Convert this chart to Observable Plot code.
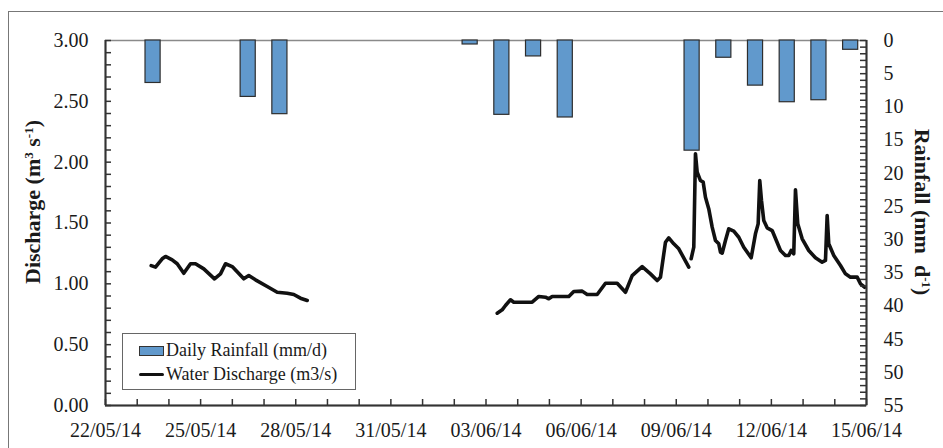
<!DOCTYPE html>
<html>
<head>
<meta charset="utf-8">
<script src="https://cdn.jsdelivr.net/npm/d3@7"></script>
<script src="https://cdn.jsdelivr.net/npm/@observablehq/plot@0.6"></script>
<style>
  body { margin: 0; background: #fff; }
  #wrap { position: relative; width: 943px; height: 448px; overflow: hidden;
          font-family: "Liberation Serif", "Times New Roman", serif; color: #1a1a1a; background: #fff; }
  #outer { position: absolute; left: 8px; top: 11px; width: 1000px; height: 1000px;
           border-left: 1.5px solid #777; border-top: 1.5px solid #777; pointer-events: none; }
  .ytitle { position: absolute; font-weight: bold; font-size: 22px; white-space: nowrap;
            transform-origin: center center; line-height: 1; }
  .ytitle sup { font-size: 13px; vertical-align: 7px; line-height: 0; }
  #legend { position: absolute; left: 122px; top: 333px; width: 232px; height: 55px;
            border: 1px solid #666; background: #fff; font-size: 18px; }
  .lrow { position: absolute; left: 16px; display: flex; align-items: center; white-space: nowrap; }
  .sw-bar { width: 23px; height: 8px; background: #6199cc; border: 1px solid #333; margin-right: 2px; }
  .sw-line { width: 25px; height: 3.5px; background: #111; border-radius: 2px; margin-right: 2px; }
</style>
</head>
<body>
<div id="wrap">
  <div id="chart"></div>
  <div id="outer"></div>
  <div class="ytitle" id="ltitle">Discharge (m<sup>3</sup> s<sup>-1</sup>)</div>
  <div class="ytitle" id="rtitle">Rainfall (mm&nbsp;&nbsp;d<sup>-1</sup>)</div>
  <div id="legend">
    <div class="lrow" style="top:6px"><span class="sw-bar"></span><span>Daily Rainfall (mm/d)</span></div>
    <div class="lrow" style="top:30px"><span class="sw-line"></span><span>Water Discharge (m3/s)</span></div>
  </div>
</div>
<script>
// ---------- data ----------
const startDate = "2014-05-22";
const endDate = "2014-06-15";
const labelDates = ["2014-05-22","2014-05-25","2014-05-28","2014-05-31","2014-06-03",
                    "2014-06-06","2014-06-09","2014-06-12","2014-06-15"];

// daily rainfall (mm/d), right axis (inverted)
const rainDates = ["2014-05-23","2014-05-26","2014-05-27","2014-06-02","2014-06-03","2014-06-04",
                   "2014-06-05","2014-06-09","2014-06-10","2014-06-11","2014-06-12","2014-06-13","2014-06-14"];
const rainMm = [6.4, 8.5, 11.1, 0.6, 11.2, 2.4, 11.6, 16.6, 2.6, 6.8, 9.3, 9.0, 1.4];

// water discharge (m3/s); time as days elapsed since 22/05/14 00:00, three recorded segments
const q1Day = [1.441,1.577,1.788,1.892,2.103,2.261,2.469,2.681,2.838,3.100,3.437,3.627,3.784,3.996,
               4.361,4.519,4.730,5.099,5.415,5.730,5.938,6.149,6.361];
const q1Val = [1.150,1.137,1.206,1.225,1.197,1.165,1.087,1.165,1.165,1.123,1.041,1.082,1.165,1.142,
               1.041,1.068,1.033,0.978,0.931,0.923,0.912,0.882,0.863];
const q2Day = [12.353,12.510,12.614,12.772,12.876,13.456,13.665,13.876,13.980,14.087,14.611,14.768,
               15.033,15.191,15.506,15.768,16.137,16.399,16.610,16.925,17.187,17.398,17.502,17.660,
               17.764,17.922,18.080,18.395];
const q2Val = [0.759,0.786,0.822,0.869,0.849,0.849,0.896,0.890,0.877,0.896,0.896,0.937,
               0.940,0.912,0.912,1.005,1.005,0.931,1.068,1.142,1.082,1.027,1.055,1.342,
               1.378,1.329,1.288,1.137];
const q3Day = [18.470,18.553,18.606,18.660,18.764,18.849,18.921,19.026,19.133,19.237,
               19.341,19.395,19.448,19.552,19.656,19.814,19.972,20.129,20.363,20.498,
               20.583,20.634,20.688,20.760,20.867,21.025,21.287,21.444,21.549,21.624,
               21.706,21.760,21.832,21.971,22.179,22.390,22.601,22.706,22.759,22.810,
               22.968,23.179,23.337,23.494,23.706,23.809,23.945];
const q3Val = [1.206,1.301,2.069,1.918,1.849,1.836,1.712,1.616,1.466,1.356,
               1.329,1.260,1.252,1.356,1.452,1.433,1.383,1.301,1.214,1.411,
               1.493,1.849,1.685,1.521,1.460,1.438,1.274,1.233,1.233,1.274,
               1.247,1.773,1.493,1.370,1.274,1.214,1.178,1.192,1.562,1.329,
               1.233,1.151,1.082,1.055,1.055,1.000,0.972];

const dischargeTicks = [0, 0.5, 1, 1.5, 2, 2.5, 3];
const rainTicks = [0, 5, 10, 15, 20, 25, 30, 35, 40, 45, 50, 55];
const dischargeMax = 3;
const rainMax = 55;

// ---------- build ----------
const parse = d3.utcParse("%Y-%m-%d");
const t0 = parse(startDate), t1 = parse(endDate);
const rainToY = r => dischargeMax - r * dischargeMax / rainMax;

const rain = rainDates.map((d, i) => ({start: parse(d), end: d3.utcDay.offset(parse(d), 1), mm: rainMm[i]}));
const q = [];
[[q1Day, q1Val], [q2Day, q2Val], [q3Day, q3Val]].forEach(([ds, vs], s) =>
  ds.forEach((d, i) => q.push({date: new Date(t0.getTime() + d * 864e5), v: vs[i], seg: s})));

const W = 943, H = 448, mL = 105, mR = 77, mT = 40, mB = 43;
const plotW = W - mL - mR, plotH = H - mT - mB, tickPx = 6;
const ink = "#1a1a1a";

const plot = Plot.plot({
  width: W, height: H,
  marginLeft: mL, marginRight: mR, marginTop: mT, marginBottom: mB,
  style: {fontFamily: '"Liberation Serif", "Times New Roman", serif', fontSize: "20px", color: ink, background: "transparent"},
  x: {type: "utc", domain: [t0, t1], label: null},
  y: {domain: [0, dischargeMax], label: null},
  marks: [
    Plot.frame({stroke: "#8a8a8a", strokeWidth: 1.5}),
    Plot.rect(rain, {x1: "start", x2: "end", y1: dischargeMax, y2: d => rainToY(d.mm),
                     insetLeft: 8.3, insetRight: 8.3, fill: "#6199cc", stroke: "#2e2e2e", strokeWidth: 1.2}),
    Plot.line(q, {x: "date", y: "v", z: "seg", stroke: "#111", strokeWidth: 3.6,
                  strokeLinejoin: "round", strokeLinecap: "round", curve: "linear"}),
    // inward minor ticks (short ticks pinned to the frame edges)
    Plot.tickX(d3.utcDay.range(t0, d3.utcDay.offset(t1, 1)), {x: d => d, insetTop: plotH - tickPx, stroke: "#333", strokeWidth: 1.5}),
    Plot.tickY(d3.range(0, 31).map(i => i / 10), {y: d => d, insetRight: plotW - tickPx, stroke: "#333", strokeWidth: 1.5}),
    Plot.tickY(d3.range(0, rainMax + 1).map(rainToY), {y: d => d, insetLeft: plotW - tickPx, stroke: "#333", strokeWidth: 1.5}),
    // axis lines
    Plot.ruleX([t0], {stroke: "#333", strokeWidth: 2}),
    Plot.ruleX([t1], {stroke: "#333", strokeWidth: 2}),
    Plot.ruleY([0], {stroke: "#333", strokeWidth: 2}),
    // labels
    Plot.axisX({ticks: labelDates.map(parse), tickFormat: d3.utcFormat("%d/%m/%y"), tickSize: 0, tickPadding: 17, label: null}),
    Plot.axisY({ticks: dischargeTicks, tickFormat: d3.format(".2f"), tickSize: 0, tickPadding: 17, anchor: "left", label: null}),
    Plot.axisY({ticks: rainTicks.map(rainToY), tickFormat: v => String(Math.round((dischargeMax - v) * rainMax / dischargeMax)),
                tickSize: 0, tickPadding: 17, anchor: "right", textAnchor: "start", label: null})
  ]
});
document.getElementById("chart").appendChild(plot);

// position the rotated axis titles
function place(id, cx, cy, rot) {
  const el = document.getElementById(id);
  const w = el.offsetWidth, h = el.offsetHeight;
  el.style.left = (cx - w / 2) + "px";
  el.style.top = (cy - h / 2) + "px";
  el.style.transform = `rotate(${rot}deg)`;
}
place("ltitle", 33, 202, -90);
place("rtitle", 922, 212, 90);
</script>
</body>
</html>
